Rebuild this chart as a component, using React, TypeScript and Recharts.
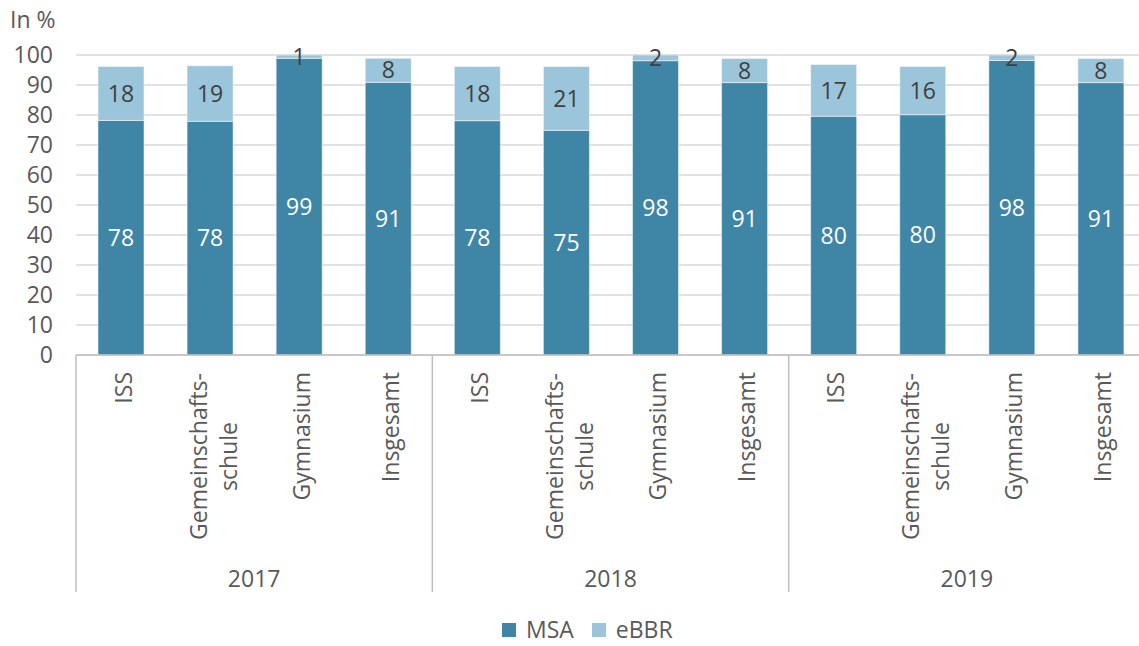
import React from 'react';
import { BarChart, Bar, XAxis, YAxis, CartesianGrid, Legend, LabelList } from 'recharts';

const years = ['2017', '2018', '2019'];
const schools = ['ISS', 'Gemeinschafts-\nschule', 'Gymnasium', 'Insgesamt'];
// MSA and eBBR shares per bar, in year order (ISS, Gemeinschaftsschule, Gymnasium, Insgesamt)
const msa = [78.2, 77.9, 98.9, 90.9, 78.1, 74.9, 98.1, 90.8, 79.6, 80.1, 98.2, 90.8];
const ebbr = [18.0, 18.5, 1.1, 8.0, 18.1, 21.3, 1.9, 8.0, 17.2, 16.1, 1.8, 8.0];
const yTicks = [0, 10, 20, 30, 40, 50, 60, 70, 80, 90, 100];

const series = [
  { key: 'msa', name: 'MSA', color: '#3f86a6', label: '#ffffff' },
  { key: 'ebbr', name: 'eBBR', color: '#9bc5da', label: '#404040' },
];

const data = msa.map((v, i) => ({
  id: `${years[Math.floor(i / 4)]}-${i % 4}`,
  msa: v,
  ebbr: ebbr[i],
}));

const FONT = '"Open Sans", sans-serif';
const TEXT = '#595959';
const AXIS = '#bfbfbf';
const CHART_W = 1145;
const CHART_H = 646;
const PLOT_LEFT = 76;
const BAND = (CHART_W - PLOT_LEFT) / data.length;

const CategoryTick = (props: any) => {
  const { x, y, index } = props;
  const lines = schools[index % 4].split('\n');
  const parts: React.ReactNode[] = [];

  if (index % 4 === 0) {
    parts.push(<line key="l" x1={x - BAND / 2} x2={x - BAND / 2} y1={y} y2={y + 237} stroke={AXIS} strokeWidth={1.5} />);
  }
  if (index === data.length - 1) {
    parts.push(<line key="r" x1={x + BAND / 2} x2={x + BAND / 2} y1={y} y2={y + 237} stroke={AXIS} strokeWidth={1.5} />);
  }
  if (index % 4 === 1) {
    parts.push(
      <text key="y" x={x + BAND / 2} y={y + 232} textAnchor="middle" fontSize={23} fill={TEXT}>
        {years[Math.floor(index / 4)]}
      </text>
    );
  }

  if (lines.length === 1) {
    parts.push(
      <text key="t" transform={`translate(${x},${y + 17}) rotate(-90)`} x={0} y={11} textAnchor="end" fontSize={23} fill={TEXT}>
        {lines[0]}
      </text>
    );
  } else {
    parts.push(
      <g key="t" transform={`translate(${x},${y + 17}) rotate(-90)`}>
        <text x={-84.5} y={-3} textAnchor="middle" fontSize={23} fill={TEXT}>{lines[0]}</text>
        <text x={-84.5} y={27} textAnchor="middle" fontSize={23} fill={TEXT}>{lines[1]}</text>
      </g>
    );
  }
  return <g>{parts}</g>;
};

const renderLegend = () => (
  <div
    style={{
      height: 50,
      boxSizing: 'border-box',
      paddingTop: 22,
      paddingLeft: 502,
      display: 'flex',
      alignItems: 'flex-start',
      fontFamily: FONT,
      fontSize: 23,
      lineHeight: '23px',
      color: TEXT,
    }}
  >
    {series.map((s) => (
      <span key={s.key} style={{ display: 'flex', alignItems: 'center', marginRight: 18 }}>
        <span style={{ width: 14, height: 14, background: s.color, marginRight: 10, display: 'inline-block' }} />
        {s.name}
      </span>
    ))}
  </div>
);

export default function App() {
  return (
    <div
      style={{
        position: 'absolute',
        left: 0,
        top: 0,
        width: 1139,
        height: CHART_H,
        overflow: 'hidden',
        background: '#ffffff',
        fontFamily: FONT,
      }}
    >
      <div style={{ position: 'absolute', left: 10, top: 8, fontSize: 23, lineHeight: '23px', color: TEXT }}>In %</div>
      <BarChart
        width={CHART_W}
        height={CHART_H}
        data={data}
        margin={{ top: 55, right: 0, bottom: 0, left: 0 }}
        barSize={46}
      >
        <CartesianGrid vertical={false} stroke="#d9d9d9" strokeWidth={1.5} />
        <XAxis
          dataKey="id"
          interval={0}
          height={241}
          tickSize={0}
          tickMargin={0}
          tickLine={false}
          axisLine={{ stroke: AXIS, strokeWidth: 1.5 }}
          tick={<CategoryTick />}
        />
        <YAxis
          width={PLOT_LEFT}
          domain={[0, 100]}
          allowDataOverflow
          ticks={yTicks}
          interval={0}
          axisLine={false}
          tickLine={false}
          tickSize={0}
          tickMargin={23}
          tick={{ fontSize: 23, fill: TEXT }}
        />
        <Legend verticalAlign="bottom" content={renderLegend} wrapperStyle={{ left: 0, width: CHART_W }} />
        {series.map((s) => (
          <Bar
            key={s.key}
            dataKey={s.key}
            name={s.name}
            stackId="a"
            fill={s.color}
            stroke="#ffffff"
            strokeOpacity={0.5}
            strokeWidth={1}
            isAnimationActive={false}
          >
            <LabelList
              dataKey={s.key}
              position="center"
              formatter={(v: any) => Math.round(Number(v))}
              fill={s.label}
              fontSize={23}
            />
          </Bar>
        ))}
      </BarChart>
    </div>
  );
}
